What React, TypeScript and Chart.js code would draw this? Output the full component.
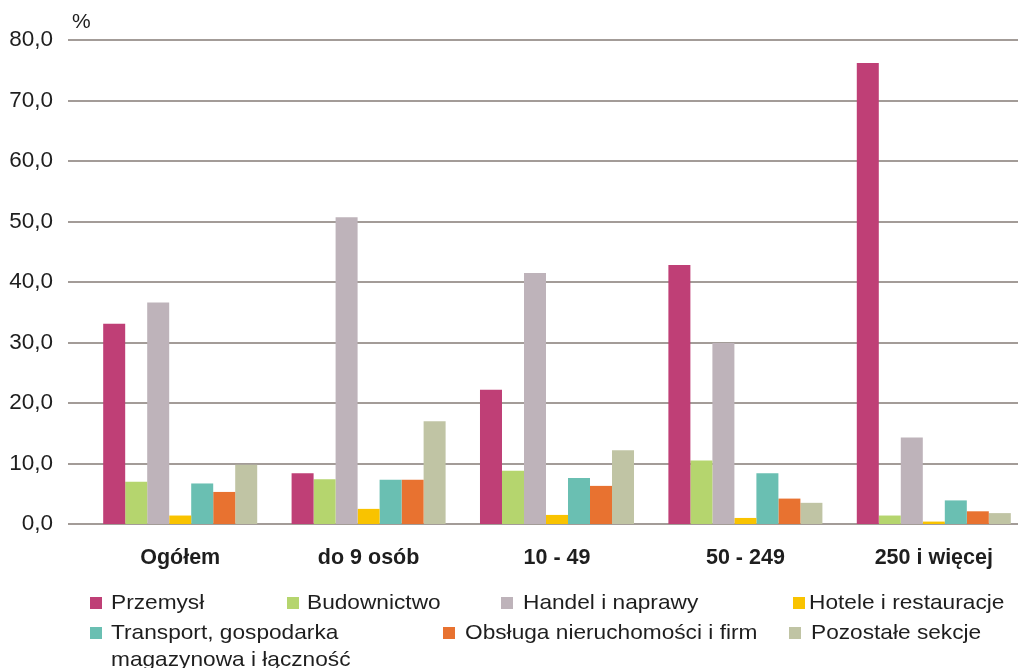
import React, { useEffect, useRef } from "react";
import { Chart, registerables } from "chart.js";

Chart.register(...registerables);

const categories = ["Ogółem", "do 9 osób", "10 - 49", "50 - 249", "250 i więcej"];
const seriesNames = [
  "Przemysł",
  "Budownictwo",
  "Handel i naprawy",
  "Hotele i restauracje",
  "Transport, gospodarka\nmagazynowa i łączność",
  "Obsługa nieruchomości i firm",
  "Pozostałe sekcje",
];
const przemysl = [33.1, 8.4, 22.2, 42.8, 76.2];
const budownictwo = [7.0, 7.4, 8.8, 10.5, 1.4];
const handel = [36.6, 50.7, 41.5, 29.9, 14.3];
const hotele = [1.4, 2.5, 1.5, 1.0, 0.4];
const transport = [6.7, 7.3, 7.6, 8.4, 3.9];
const obsluga = [5.3, 7.3, 6.3, 4.2, 2.1];
const pozostale = [9.8, 17.0, 12.2, 3.5, 1.8];
const yMin = 0;
const yMax = 80;
const yStep = 10;
const unitLabel = "%";

const colors = ["#BF3F76", "#B5D56E", "#BEB3BA", "#F9C300", "#6ABFB2", "#E87230", "#C0C4A4"];

// legend layout (square left, text left, row index)
const legendLayout = [
  { sq: 90, tx: 111, row: 0 },
  { sq: 287, tx: 307, row: 0 },
  { sq: 501, tx: 523, row: 0 },
  { sq: 793, tx: 809, row: 0 },
  { sq: 90, tx: 111, row: 1 },
  { sq: 443, tx: 465, row: 1 },
  { sq: 789, tx: 811, row: 1 },
];

const GRID_COLOR = "#a39c98";
const TEXT_COLOR = "#1e1e1e";

const gridPlugin = {
  id: "extGrid",
  beforeDatasetsDraw(chart: any) {
    const y = chart.scales.y;
    const ctx = chart.ctx;
    ctx.save();
    ctx.strokeStyle = GRID_COLOR;
    ctx.lineWidth = 2;
    for (const t of y.ticks) {
      const py = Math.round(y.getPixelForValue(t.value));
      ctx.beginPath();
      ctx.moveTo(68, py);
      ctx.lineTo(chart.width, py);
      ctx.stroke();
    }
    ctx.restore();
  },
};

export default function App() {
  const ref = useRef<HTMLCanvasElement | null>(null);
  useEffect(() => {
    if (!ref.current) return;
    const data = [przemysl, budownictwo, handel, hotele, transport, obsluga, pozostale];
    const chart = new Chart(ref.current, {
      type: "bar",
      data: {
        labels: categories,
        datasets: data.map((d, i) => ({
          label: seriesNames[i],
          data: d,
          backgroundColor: colors[i],
          borderWidth: 0,
          categoryPercentage: 0.8175,
          barPercentage: 1,
        })),
      },
      options: {
        animation: false,
        responsive: false,
        layout: { padding: { top: 40, bottom: 84, left: 0, right: 2 } },
        plugins: { legend: { display: false }, tooltip: { enabled: false } },
        scales: {
          x: {
            grid: { display: false, drawTicks: false },
            border: { display: false },
            ticks: {
              padding: 21,
              color: TEXT_COLOR,
              font: { family: "'Liberation Sans', Arial, sans-serif", size: 21.5, weight: "bold" },
              maxRotation: 0,
              autoSkip: false,
            },
            afterFit(scale: any) {
              scale.height = 60;
              scale.paddingLeft = 0;
              scale.paddingRight = 0;
            },
          },
          y: {
            min: yMin,
            max: yMax,
            grid: { display: false, drawTicks: false },
            border: { display: false },
            ticks: {
              stepSize: yStep,
              padding: 33,
              color: TEXT_COLOR,
              font: { family: "'Liberation Sans', Arial, sans-serif", size: 22.5 },
              callback: (v: any) => Number(v).toFixed(1).replace(".", ","),
            },
            afterFit(scale: any) {
              scale.width = 86;
              scale.paddingTop = 0;
              scale.paddingBottom = 0;
            },
          },
        },
      },
      plugins: [gridPlugin],
    });
    return () => chart.destroy();
  }, []);

  return (
    <div
      style={{
        position: "fixed",
        left: 0,
        top: 0,
        width: 1018,
        height: 668,
        overflow: "hidden",
        background: "#fff",
        fontFamily: "'Liberation Sans', Arial, sans-serif",
        color: TEXT_COLOR,
      }}
    >
      <canvas ref={ref} width={1030} height={668} style={{ display: "block", width: 1030, height: 668 }} />
      <div style={{ position: "absolute", left: 72, top: 7, fontSize: 21, lineHeight: "27px" }}>{unitLabel}</div>
      {seriesNames.map((name, i) => {
        const L = legendLayout[i];
        const top = 588 + L.row * 30;
        return (
          <React.Fragment key={i}>
            <div
              style={{
                position: "absolute",
                left: L.sq,
                top: top + 9,
                width: 12,
                height: 12,
                background: colors[i],
              }}
            />
            <div
              style={{
                position: "absolute",
                left: L.tx,
                top: top,
                fontSize: 21,
                lineHeight: "27px",
                whiteSpace: "pre",
                transform: "scaleX(1.08)",
                transformOrigin: "left top",
              }}
            >
              {name}
            </div>
          </React.Fragment>
        );
      })}
    </div>
  );
}
